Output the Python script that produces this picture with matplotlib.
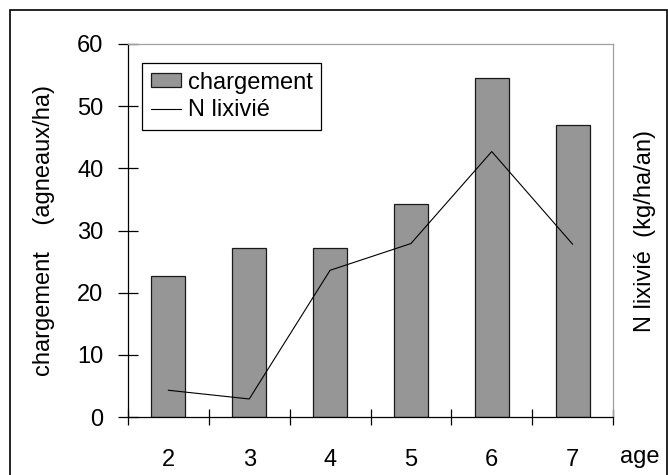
import matplotlib
matplotlib.use("Agg")
import matplotlib.pyplot as plt
import numpy as np
from matplotlib.patches import Rectangle

plt.rcParams['font.family'] = ['Liberation Sans', 'DejaVu Sans']

# donnees
ages = ['2', '3', '4', '5', '6', '7']
chargement = [22.7, 27.2, 27.2, 34.2, 54.6, 47.0]   # agneaux/ha
n_lixivie = [4.3, 2.9, 23.6, 27.9, 42.7, 27.8]      # kg/ha/an

W, H = 668, 475
fig = plt.figure(figsize=(W / 100, H / 100), dpi=100)
ax = fig.add_axes([128 / W, 1 - 417 / H, 485 / W, 373 / H])

x = np.arange(len(ages))
bars = ax.bar(x, chargement, width=0.42, color='#969696', edgecolor='#1a1a1a',
              linewidth=0.9, label='chargement', zorder=2)
line, = ax.plot(x, n_lixivie, color='black', linewidth=0.8, label='N lixivié', zorder=3)

ax.set_xlim(-0.5, len(ages) - 0.5)
ax.set_ylim(0, 60)

# graduations
ax.set_yticks(np.arange(0, 61, 10))
ax.tick_params(axis='y', direction='inout', length=14.4, width=0.9, pad=10.5,
               labelsize=17, right=False)
ax.set_xticks(np.arange(-0.5, len(ages)), [''] * (len(ages) + 1))
ax.set_xticks(x, ages, minor=True)
ax.tick_params(axis='x', which='major', direction='inout', length=12.2, width=0.9)
ax.tick_params(axis='x', which='minor', length=0, pad=23, labelsize=17)

for side in ['left', 'bottom']:
    ax.spines[side].set_color('black')
    ax.spines[side].set_linewidth(0.9)
for side in ['top', 'right']:
    ax.spines[side].set_color('#a0a0a0')
    ax.spines[side].set_linewidth(0.9)

# titres des axes
ax.text((44 - 128) / 485, 0.5, 'chargement    (agneaux/ha)', transform=ax.transAxes,
        rotation=90, ha='center', va='center', fontsize=17)
fig.text(644.5 / W, 1 - 231 / H, 'N lixivié  (kg/ha/an)', rotation=90,
         ha='center', va='center', fontsize=17)
fig.text(620 / W, 1 - 463 / H, 'age', ha='left', va='baseline', fontsize=17)

leg = ax.legend(handles=[bars, line], loc='upper left',
                bbox_to_anchor=((142.3 - 128) / 485, 1 - (63.3 - 44) / 373),
                borderaxespad=0, fontsize=17, fancybox=False, shadow=False,
                handlelength=1.3, handleheight=0.55, handletextpad=0.3,
                borderpad=0.35, labelspacing=0.25, framealpha=1)
leg.get_frame().set_edgecolor('black')
leg.get_frame().set_linewidth(0.9)

# cadre autour de la figure
fig.patches.append(Rectangle((10 / W, -0.05), 656.5 / W, 1.05 - 10 / H,
                             transform=fig.transFigure, fill=False,
                             edgecolor='black', linewidth=1.2))

fig.savefig('out.png', dpi=100)
